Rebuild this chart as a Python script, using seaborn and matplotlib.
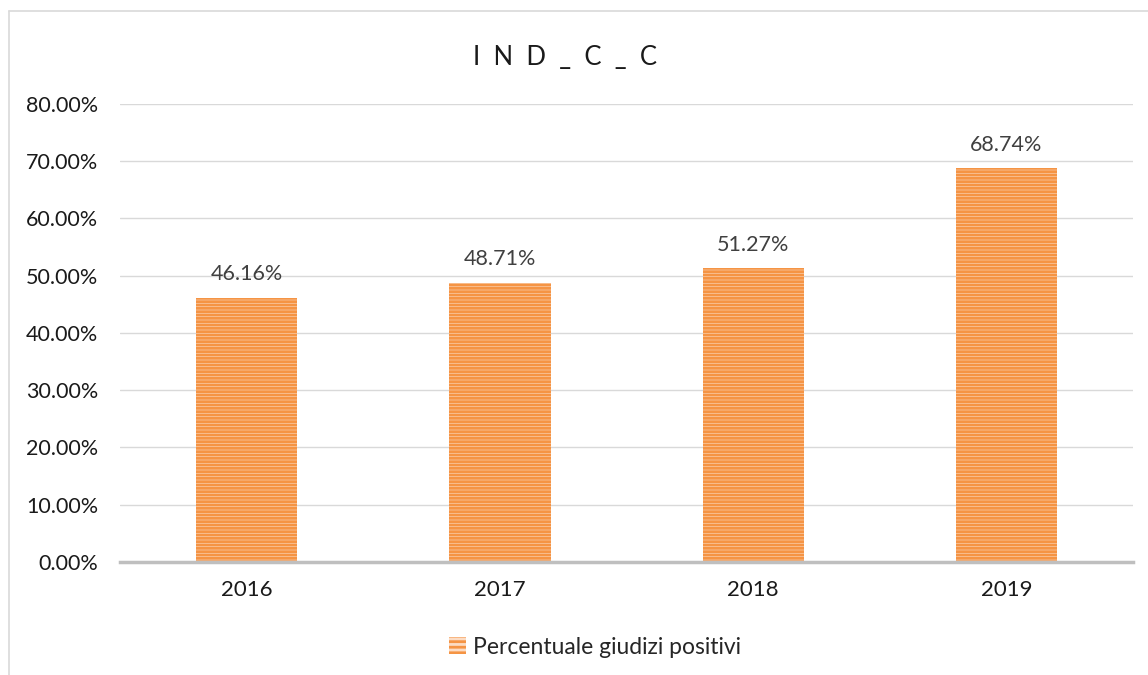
import pandas as pd
import matplotlib
matplotlib.use("Agg")
import matplotlib.pyplot as plt
from matplotlib.patches import Patch
from matplotlib.lines import Line2D
import seaborn as sns

# Chart data
years = ["2016", "2017", "2018", "2019"]
values = [46.16, 48.71, 51.27, 68.74]
series_name = "Percentuale giudizi positivi"
title = "IND_C_C"

df = pd.DataFrame({"Anno": years, "Valore": [v / 100 for v in values]})

sns.set_theme(style="white")
plt.rcParams['font.family'] = ['Lato', 'DejaVu Sans']
plt.rcParams['hatch.linewidth'] = 2.0

light = "#FCDCC4"
dark = "#F59444"

fig = plt.figure(figsize=(11.48, 6.75), dpi=100)
ax = fig.add_axes([0.1045, 0.1674, 0.8825, 0.6786])

sns.barplot(data=df, x="Anno", y="Valore", color=light, width=0.4,
            saturation=1, ax=ax, linewidth=0)
for bar in ax.patches:
    bar.set_hatch("-----")
    bar.set_edgecolor(dark)
    bar.set_linewidth(0)

ax.set_ylim(0, 0.8)
ax.set_xlim(-0.5, 3.5)
ax.set_yticks([i / 10 for i in range(9)])
ax.set_yticklabels([f"{i * 10:.2f}%" for i in range(9)], fontsize=15.5, color="#1a1a1a")
ax.tick_params(axis='y', length=0, pad=15.5)
ax.tick_params(axis='x', length=0, pad=13, labelsize=16, labelcolor="#1a1a1a")
ax.set_xlabel("")
ax.set_ylabel("")
ax.yaxis.grid(True, color="#D9D9D9", linewidth=1)
ax.set_axisbelow(True)
for s in ["top", "right", "left"]:
    ax.spines[s].set_visible(False)
ax.spines["bottom"].set_color("#BFBFBF")
ax.spines["bottom"].set_linewidth(2.5)
ax.spines["bottom"].set_zorder(5)

# data labels
for bar, v in zip(ax.patches, values):
    ax.annotate(f"{v:.2f}%", (bar.get_x() + bar.get_width() / 2, bar.get_height()),
                xytext=(0, 10), textcoords="offset points", ha="center", va="bottom",
                fontsize=15.5, color="#404040")

fig.text(0.492, 0.915, "  ".join(title), ha="center", va="center", fontsize=18.5, color="#1a1a1a")

handle = Patch(facecolor=light, edgecolor=dark, linewidth=0, hatch="---")
fig.legend([handle], [series_name], loc="center", bbox_to_anchor=(0.518, 0.041),
           frameon=False, fontsize=16.5, handlelength=0.75, handleheight=0.75,
           handletextpad=0.3)

# outer chart frame (top and left only visible)
fig.add_artist(Line2D([9 / 1148, 9 / 1148], [0, 1 - 11 / 675], color="#D9D9D9", lw=1.2))
fig.add_artist(Line2D([9 / 1148, 1], [1 - 11 / 675, 1 - 11 / 675], color="#D9D9D9", lw=1.2))

fig.savefig("out.png", dpi=100)
